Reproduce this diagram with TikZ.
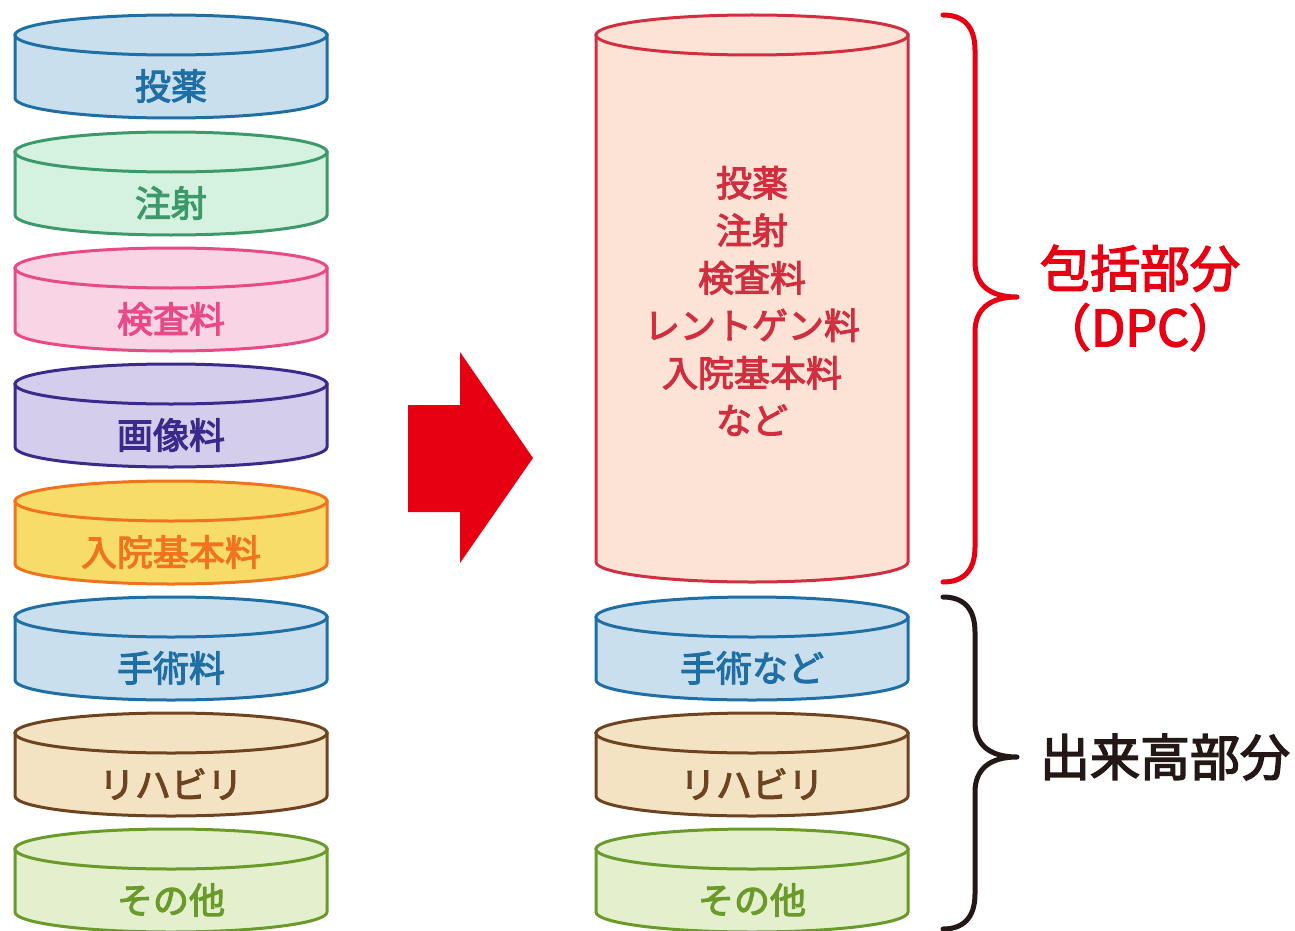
\documentclass[tikz,border=0pt]{standalone}
\usepackage{fontspec}
\newfontfamily\jpfont{Noto Sans CJK JP}[FakeBold=3]
\usetikzlibrary{positioning}

\definecolor{blueFill}{HTML}{C9DFEE}   \definecolor{blueLine}{HTML}{1F6FA5}
\definecolor{mintFill}{HTML}{D5F2E1}   \definecolor{mintLine}{HTML}{3C9A6A}
\definecolor{pinkFill}{HTML}{F8D4E4}   \definecolor{pinkLine}{HTML}{E84A87}
\definecolor{violetFill}{HTML}{D4CDEC} \definecolor{violetLine}{HTML}{3B2A8A}
\definecolor{goldFill}{HTML}{F7DC6A}   \definecolor{goldLine}{HTML}{F0731D}
\definecolor{tanFill}{HTML}{F3E3C3}    \definecolor{tanLine}{HTML}{6E4420}
\definecolor{limeFill}{HTML}{E4F0CD}   \definecolor{limeLine}{HTML}{6A9A2A}
\definecolor{dpcFill}{HTML}{FDE3D6}    \definecolor{dpcLine}{HTML}{CF2F3F}
\definecolor{dpcRed}{HTML}{E60012}
\definecolor{inkBlack}{HTML}{231815}

% #1 x centre, #2 top edge, #3 body height, #4 colour, #5 node name, #6 text
\newcommand{\drum}[6]{%
  \filldraw[fill=#4Fill, draw=#4Line, line width=3pt]
    (#1-156,-#2-20) -- (#1-156,-#2-20-#3)
    arc[start angle=180, end angle=360, x radius=156, y radius=20]
    -- (#1+156,-#2-20) -- cycle;
  \filldraw[fill=#4Fill, draw=#4Line, line width=3pt]
    (#1,-#2-20) ellipse[x radius=156, y radius=20];
  \node[item label, text=#4Line] (#5) at (#1,-#2-71) {#6};
}

\begin{document}
\begin{tikzpicture}[x=1pt,y=1pt,
  item label/.style={font=\jpfont\fontsize{36}{40}\selectfont, inner sep=0pt},
  part label/.style={font=\jpfont\fontsize{50}{59}\selectfont, align=center, inner sep=0pt},
  bracket/.style={line width=5pt, line cap=round, line join=round}]

  \useasboundingbox (0,0) rectangle (1295,-931);

  % left column
  \drum{171}{15}{63}{blue}{toyaku}{投薬}
  \drum{171}{132}{63}{mint}{chusha}{注射}
  \drum{171}{248}{63}{pink}{kensa}{検査料}
  \drum{171}{364}{63}{violet}{gazo}{画像料}
  \drum{171}{481}{63}{gold}{nyuin}{入院基本料}
  \drum{171}{597}{63}{blue}{shujutsu}{手術料}
  \drum{171}{713}{63}{tan}{reha}{リハビリ}
  \drum{171}{829}{63}{lime}{sonota}{その他}

  % arrow
  \fill[dpcRed] (408,-405) -- (460,-405) -- (460,-352) -- (533,-458)
    -- (460,-563) -- (460,-512) -- (408,-512) -- cycle;

  % right column
  \drum{752}{15}{527}{dpc}{dpcbody}{}
  \node[item label, text=dpcLine, align=center,
        font=\jpfont\fontsize{36}{47.5}\selectfont] (dpclist) at (752,-301)
    {投薬\\注射\\検査料\\レントゲン料\\入院基本料\\など};
  \drum{752}{597}{63}{blue}{shujutsuR}{手術など}
  \drum{752}{713}{63}{tan}{rehaR}{リハビリ}
  \drum{752}{829}{63}{lime}{sonotaR}{その他}

  % braces
  \draw[bracket, dpcRed] (943,-15) .. controls (962,-15) and (975,-25) .. (975,-50)
    -- (975,-262) .. controls (975,-285) and (990,-297) .. (1017,-297)
    .. controls (990,-297) and (975,-309) .. (975,-332)
    -- (975,-547) .. controls (975,-572) and (962,-582) .. (943,-582);
  \draw[bracket, inkBlack] (943,-597) .. controls (962,-597) and (975,-607) .. (975,-632)
    -- (975,-722) .. controls (975,-745) and (990,-757) .. (1017,-757)
    .. controls (990,-757) and (975,-769) .. (975,-792)
    -- (975,-894) .. controls (975,-919) and (962,-929) .. (943,-929);

  \node[part label, text=dpcRed] (hokatsu) at (1140,-298) {包括部分\\（DPC）};
  \node[part label, text=inkBlack] (dekidaka) at (1165,-757) {出来高部分};
\end{tikzpicture}
\end{document}
